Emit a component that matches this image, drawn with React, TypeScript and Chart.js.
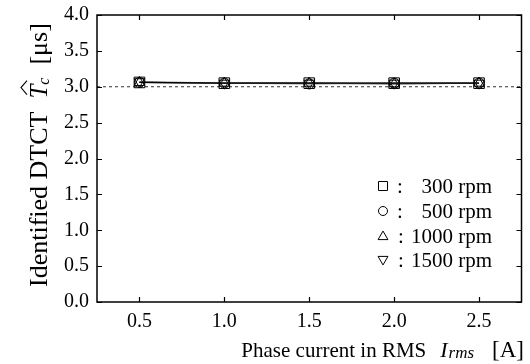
import React, { useEffect, useRef } from "react";
import { Chart, registerables } from "chart.js";

Chart.register(...registerables);

const currents = [0.5, 1.0, 1.5, 2.0, 2.5];
const speedLabels = ["300 rpm", "500 rpm", "1000 rpm", "1500 rpm"];
const dtct300 = [3.06, 3.05, 3.05, 3.05, 3.05];
const dtct500 = [3.06, 3.05, 3.04, 3.05, 3.05];
const dtct1000 = [3.06, 3.05, 3.05, 3.04, 3.05];
const dtct1500 = [3.07, 3.05, 3.05, 3.05, 3.05];
const referenceValue = 3.0;
const xTicks = [0.5, 1.0, 1.5, 2.0, 2.5];
const xRange = [0.25, 2.75];
const yRange = [0, 4];

const FONT = "'Liberation Serif', 'Times New Roman', serif";

function drawSymbol(ctx: CanvasRenderingContext2D, kind: number, x: number, y: number, s: number) {
  ctx.beginPath();
  if (kind === 0) {
    ctx.rect(x - s, y - s, 2 * s, 2 * s);
  } else if (kind === 1) {
    ctx.arc(x, y, s, 0, Math.PI * 2);
  } else if (kind === 2) {
    ctx.moveTo(x, y - s * 1.1);
    ctx.lineTo(x + s * 1.1, y + s * 0.8);
    ctx.lineTo(x - s * 1.1, y + s * 0.8);
    ctx.closePath();
  } else {
    ctx.moveTo(x, y + s * 1.1);
    ctx.lineTo(x + s * 1.1, y - s * 0.8);
    ctx.lineTo(x - s * 1.1, y - s * 0.8);
    ctx.closePath();
  }
  ctx.stroke();
}

const decorPlugin = {
  id: "decor",
  afterDatasetsDraw(chart: any) {
    const ctx: CanvasRenderingContext2D = chart.ctx;
    const { left, right, top, bottom } = chart.chartArea;
    const xs = chart.scales.x;
    const ys = chart.scales.y;
    ctx.save();
    ctx.strokeStyle = "#000";
    ctx.lineWidth = 1.5;
    ctx.strokeRect(left, top, right - left, bottom - top);
    ctx.lineWidth = 1.2;
    const tl = 5;
    ctx.beginPath();
    xTicks.forEach((v) => {
      const px = Math.round(xs.getPixelForValue(v)) + 0.5;
      ctx.moveTo(px, bottom);
      ctx.lineTo(px, bottom - tl);
      ctx.moveTo(px, top);
      ctx.lineTo(px, top + tl);
    });
    ys.ticks.forEach((t: any) => {
      const py = Math.round(ys.getPixelForValue(t.value)) + 0.5;
      ctx.moveTo(left, py);
      ctx.lineTo(left + tl, py);
      ctx.moveTo(right, py);
      ctx.lineTo(right - tl, py);
    });
    ctx.stroke();

    // legend
    const rowY = [186, 211, 236, 260];
    ctx.fillStyle = "#000";
    ctx.font = "21px " + FONT;
    ctx.textBaseline = "middle";
    speedLabels.forEach((lab, i) => {
      ctx.lineWidth = 1;
      ctx.strokeStyle = "#000";
      drawSymbol(ctx, i, 383, rowY[i], 4.5);
      ctx.textAlign = "right";
      ctx.fillText(lab, 492, rowY[i] + 1);
      const w = ctx.measureText(lab).width;
      const colonX = lab.length > 7 ? 492 - w - 10 : 400;
      ctx.textAlign = "center";
      ctx.fillText(":", colonX, rowY[i] + 1);
    });

    // x title
    ctx.textBaseline = "alphabetic";
    ctx.textAlign = "left";
    const by = 357;
    const p1 = "Phase current in RMS";
    const p3 = "[A]";
    ctx.font = "italic 22px " + FONT;
    const wI = ctx.measureText("I").width;
    ctx.font = "italic 17px " + FONT;
    const wr = ctx.measureText("rms").width;
    ctx.font = "21px " + FONT;
    const w1 = ctx.measureText(p1).width;
    ctx.font = "23px " + FONT;
    const w3 = ctx.measureText(p3).width;
    const gap1 = 14;
    const gap2 = 18;
    let x = 524 - (w1 + gap1 + wI + 1 + wr + gap2 + w3);
    ctx.font = "21px " + FONT;
    ctx.fillText(p1, x, by);
    x += w1 + gap1;
    ctx.font = "italic 22px " + FONT;
    ctx.fillText("I", x, by);
    x += wI + 1;
    ctx.font = "italic 17px " + FONT;
    ctx.fillText("rms", x, by + 1);
    x += wr + gap2;
    ctx.font = "23px " + FONT;
    ctx.fillText(p3, x, by);

    // y title
    ctx.translate(47, 287);
    ctx.rotate(-Math.PI / 2);
    ctx.font = "26px " + FONT;
    const t1 = "Identified DTCT";
    ctx.fillText(t1, 0, 0);
    let yx = ctx.measureText(t1).width + 13;
    ctx.font = "italic 25px " + FONT;
    const tw = ctx.measureText("T").width;
    ctx.fillText("T", yx, 0);
    ctx.lineWidth = 1.1;
    ctx.beginPath();
    ctx.moveTo(yx + 4, -20);
    ctx.lineTo(yx + 4 + tw / 2, -26);
    ctx.lineTo(yx + 4 + tw, -20);
    ctx.stroke();
    yx += tw;
    ctx.font = "italic 16px " + FONT;
    ctx.fillText("c", yx, 2);
    yx += ctx.measureText("c").width + 13;
    ctx.font = "26px " + FONT;
    ctx.fillText("[\u03bcs]", yx, 0);
    ctx.restore();
  },
};

function toPoints(vals: number[]) {
  return currents.map((c, i) => ({ x: c, y: vals[i] }));
}

export default function App() {
  const ref = useRef<HTMLCanvasElement | null>(null);
  useEffect(() => {
    if (!ref.current) return;
    const series = [dtct300, dtct500, dtct1000, dtct1500];
    const styles: any[] = ["rect", "circle", "triangle", "triangle"];
    const rots = [0, 0, 0, 180];
    const radii = [7.5, 5, 6, 6];
    const lineColors = ["#000", "#777", "#222", "#888"];
    const datasets: any[] = series.map((vals, i) => ({
      label: speedLabels[i],
      data: toPoints(vals),
      borderColor: lineColors[i],
      borderWidth: 1.3,
      pointStyle: styles[i],
      rotation: rots[i],
      pointRadius: radii[i],
      pointBorderColor: "#000",
      pointBackgroundColor: "rgba(255,255,255,0)",
      pointBorderWidth: 1,
      fill: false,
      tension: 0,
    }));
    datasets.push({
      label: "ref",
      data: [
        { x: xRange[0], y: referenceValue },
        { x: xRange[1], y: referenceValue },
      ],
      borderColor: "#333",
      borderWidth: 1,
      borderDash: [3, 3],
      pointRadius: 0,
      fill: false,
    });
    const chart = new Chart(ref.current, {
      type: "line",
      data: { datasets },
      plugins: [decorPlugin],
      options: {
        responsive: false,
        animation: false,
        devicePixelRatio: 1,
        layout: { padding: { top: 15, right: 4, left: 0, bottom: 0 } },
        plugins: { legend: { display: false }, tooltip: { enabled: false } },
        scales: {
          x: {
            type: "linear",
            min: xRange[0],
            max: xRange[1],
            grid: { display: false, drawTicks: false, tickLength: 0 },
            border: { display: false },
            afterBuildTicks: (s: any) => {
              s.ticks = xTicks.map((v) => ({ value: v }));
            },
            afterFit: (s: any) => {
              s.height = 62;
              s.paddingLeft = 0;
              s.paddingRight = 0;
            },
            ticks: {
              color: "#000",
              font: { family: FONT, size: 20 },
              padding: 8,
              maxRotation: 0,
              callback: (v: any) => Number(v).toFixed(1),
            },
          },
          y: {
            type: "linear",
            min: yRange[0],
            max: yRange[1],
            grid: { display: false, drawTicks: false, tickLength: 0 },
            border: { display: false },
            afterFit: (s: any) => {
              s.width = 97;
              s.paddingTop = 0;
              s.paddingBottom = 0;
            },
            ticks: {
              stepSize: 0.5,
              color: "#000",
              font: { family: FONT, size: 20 },
              padding: 8,
              callback: (v: any) => Number(v).toFixed(1),
            },
          },
        },
      } as any,
    });
    return () => chart.destroy();
  }, []);
  return (
    <div style={{ position: "fixed", left: 0, top: 0, width: 530, height: 364, background: "#fff" }}>
      <canvas ref={ref} width={530} height={364} style={{ width: 530, height: 364 }} />
    </div>
  );
}
